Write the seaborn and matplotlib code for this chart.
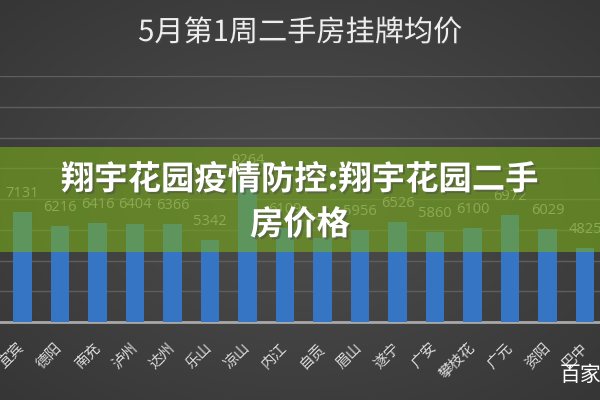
import numpy as np
import matplotlib
matplotlib.use("Agg")
import matplotlib.pyplot as plt
import matplotlib.patheffects as pe
from matplotlib.patches import Rectangle
import seaborn as sns

sns.set_theme(style="dark")
plt.rcParams['font.family'] = ['Noto Sans CJK SC', 'DejaVu Sans']

# data
cities = ["宜宾", "德阳", "南充", "泸州", "达州", "乐山", "凉山", "内江",
          "自贡", "眉山", "遂宁", "广安", "攀枝花", "广元", "资阳", "巴中"]
prices = [7131, 6216, 6416, 6404, 6366, 5342, 9264, 6109,
          5450, 5956, 6526, 5860, 6100, 6972, 6029, 4825]
title = "5月第1周二手房挂牌均价"
banner = ["翔宇花园疫情防控:翔宇花园二手", "房价格"]
mark = "百家号"

fig = plt.figure(figsize=(6, 4), dpi=100)

# dark radial background, lighter in the middle
bg = fig.add_axes([0, 0, 1, 1], zorder=-10)
yy, xx = np.mgrid[-1:1:200j, -1:1:300j]
rr = np.clip(np.sqrt(xx**2 + yy**2) / 1.414, 0, 1)
inner = np.array([0x4e, 0x4e, 0x4e]) / 255
outer = np.array([0x36, 0x36, 0x36]) / 255
img = inner + (outer - inner) * rr[..., None]
bg.imshow(img, aspect="auto", extent=[0, 1, 0, 1])
bg.set_axis_off()

ax = fig.add_axes([0, 1 - 322 / 400, 1, 246 / 400])
ax.patch.set_alpha(0)
sns.barplot(x=cities, y=prices, color="#3674c4", width=0.5, saturation=1,
            linewidth=0, ax=ax, zorder=3)
ax.bar_label(ax.containers[0], padding=8, fontsize=10.5, color="#a8a8a8",
             family="Open Sans", clip_on=False)

ax.set_xlim(-0.6, 15.4)
ax.set_ylim(0, 16000)
ax.set_yticks(range(0, 16001, 2000))
ax.yaxis.grid(True, color="#5e5e5e", lw=1)
ax.tick_params(axis="y", left=False, labelleft=False)
ax.tick_params(axis="x", bottom=False, pad=11)
ax.set_xticks(range(len(cities)))
ax.set_xticklabels(cities, rotation=45, ha="right", va="center",
                   rotation_mode="anchor", fontsize=10.5, color="#dcdcdc",
                   fontweight="light")
ax.set_xlabel("")
ax.set_ylabel("")
for s in ["top", "left", "right"]:
    ax.spines[s].set_visible(False)
ax.spines["bottom"].set_color("#a8a8a8")
ax.spines["bottom"].set_linewidth(2)

fig.text(0.5, 1 - 33 / 400, title, ha="center", va="center", fontsize=21,
         color="#eeeeee",
         path_effects=[pe.withSimplePatchShadow(offset=(1, -1), alpha=0.6)])

# olive banner across the chart
fig.add_artist(Rectangle((0, 1 - 252 / 400), 1, 105 / 400,
                         transform=fig.transFigure, color=(120/255, 172/255, 25/255),
                         alpha=0.6, lw=0, zorder=5))
shadow = [pe.withSimplePatchShadow(offset=(1.5, -1.5), alpha=0.5)]
fig.text(0.5, 1 - 180 / 400, banner[0], ha="center", va="center", fontsize=24,
         weight="heavy", color="white", zorder=6, path_effects=shadow)
fig.text(0.5, 1 - 225 / 400, banner[1], ha="center", va="center", fontsize=24,
         weight="heavy", color="white", zorder=6, path_effects=shadow)

fig.text(560 / 600, 1 - 375 / 400, mark, ha="left", va="center", fontsize=15,
         color="white", zorder=7)

fig.savefig("out.png", dpi=100)
